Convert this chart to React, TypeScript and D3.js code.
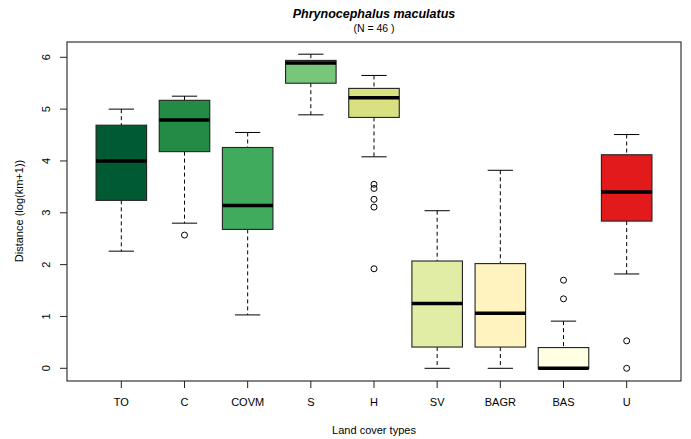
import React from "react";
import * as d3 from "d3";

const categories = ["TO", "C", "COVM", "S", "H", "SV", "BAGR", "BAS", "U"];
const lowWhisker = [2.26, 2.8, 1.03, 4.89, 4.08, 0.0, 0.0, 0.0, 1.82];
const q1 = [3.24, 4.18, 2.68, 5.5, 4.84, 0.41, 0.41, 0.0, 2.84];
const medians = [4.0, 4.79, 3.14, 5.89, 5.22, 1.25, 1.06, 0.0, 3.4];
const q3 = [4.69, 5.17, 4.26, 5.94, 5.4, 2.07, 2.02, 0.4, 4.12];
const highWhisker = [5.0, 5.25, 4.55, 6.06, 5.65, 3.04, 3.82, 0.91, 4.51];
const outliers = [[], [2.57], [], [], [3.55, 3.47, 3.26, 3.11, 1.92], [], [], [1.7, 1.34], [0.53, 0.0]];
const fills = ["#005a32", "#238b45", "#41ab5d", "#78c679", "#d9e07f", "#e1eda4", "#fff4c0", "#ffffe3", "#e31a1c"];
const yTicks = [0, 1, 2, 3, 4, 5, 6];

const W = 691;
const H = 439;
const left = 67, right = 681, top = 42, bottom = 381;
const font = "'Liberation Sans', Arial, sans-serif";

export default function App() {
  const n = categories.length;
  const ext = (n) * 0.04;
  const x = d3.scaleLinear().domain([0.5 - ext, n + 0.5 + ext]).range([left, right]);
  const y = d3.scaleLinear().domain([0, 6]).range([368.3, 57.3]);
  const bw = (x(1) - x(0)) * 0.8;
  const cap = bw / 2;

  return (
    <svg width={W} height={H} style={{ position: "absolute", left: 0, top: 0, background: "#fff" }} fontFamily={font}>
      <text x={374} y={18} textAnchor="middle" fontSize={12.5} fontWeight="bold" fontStyle="italic">Phrynocephalus maculatus</text>
      <text x={374} y={32} textAnchor="middle" fontSize={10.5}>(N = 46 )</text>

      {categories.map((c, i) => {
        const cx = x(i + 1);
        return (
          <g key={c}>
            <line x1={cx} x2={cx} y1={y(highWhisker[i])} y2={y(q3[i])} stroke="#000" strokeDasharray="4,3" />
            <line x1={cx} x2={cx} y1={y(q1[i])} y2={y(lowWhisker[i])} stroke="#000" strokeDasharray="4,3" />
            <line x1={cx - cap / 2} x2={cx + cap / 2} y1={y(highWhisker[i])} y2={y(highWhisker[i])} stroke="#000" />
            <line x1={cx - cap / 2} x2={cx + cap / 2} y1={y(lowWhisker[i])} y2={y(lowWhisker[i])} stroke="#000" />
            <rect x={cx - bw / 2} width={bw} y={y(q3[i])} height={Math.max(y(q1[i]) - y(q3[i]), 0.5)} fill={fills[i]} stroke="#222" strokeWidth={1.1} />
            <line x1={cx - bw / 2} x2={cx + bw / 2} y1={y(medians[i])} y2={y(medians[i])} stroke="#000" strokeWidth={3.5} />
            {outliers[i].map((v, j) => (
              <circle key={j} cx={cx} cy={y(v)} r={3} fill="none" stroke="#000" strokeWidth={1} />
            ))}
          </g>
        );
      })}

      <rect x={left} y={top} width={right - left} height={bottom - top} fill="none" stroke="#222" strokeWidth={1.1} />

      {yTicks.map((t) => (
        <g key={t}>
          <line x1={left - 7} x2={left} y1={y(t)} y2={y(t)} stroke="#222" />
          <text transform={`translate(${50},${y(t)}) rotate(-90)`} textAnchor="middle" fontSize={11}>{t}</text>
        </g>
      ))}
      {categories.map((c, i) => (
        <g key={c}>
          <line x1={x(i + 1)} x2={x(i + 1)} y1={bottom} y2={bottom + 7} stroke="#222" />
          <text x={x(i + 1)} y={406} textAnchor="middle" fontSize={11}>{c}</text>
        </g>
      ))}
      <text transform={`translate(${23},${211}) rotate(-90)`} textAnchor="middle" fontSize={11}>Distance (log(km+1))</text>
      <text x={374} y={434} textAnchor="middle" fontSize={11}>Land cover types</text>
    </svg>
  );
}
